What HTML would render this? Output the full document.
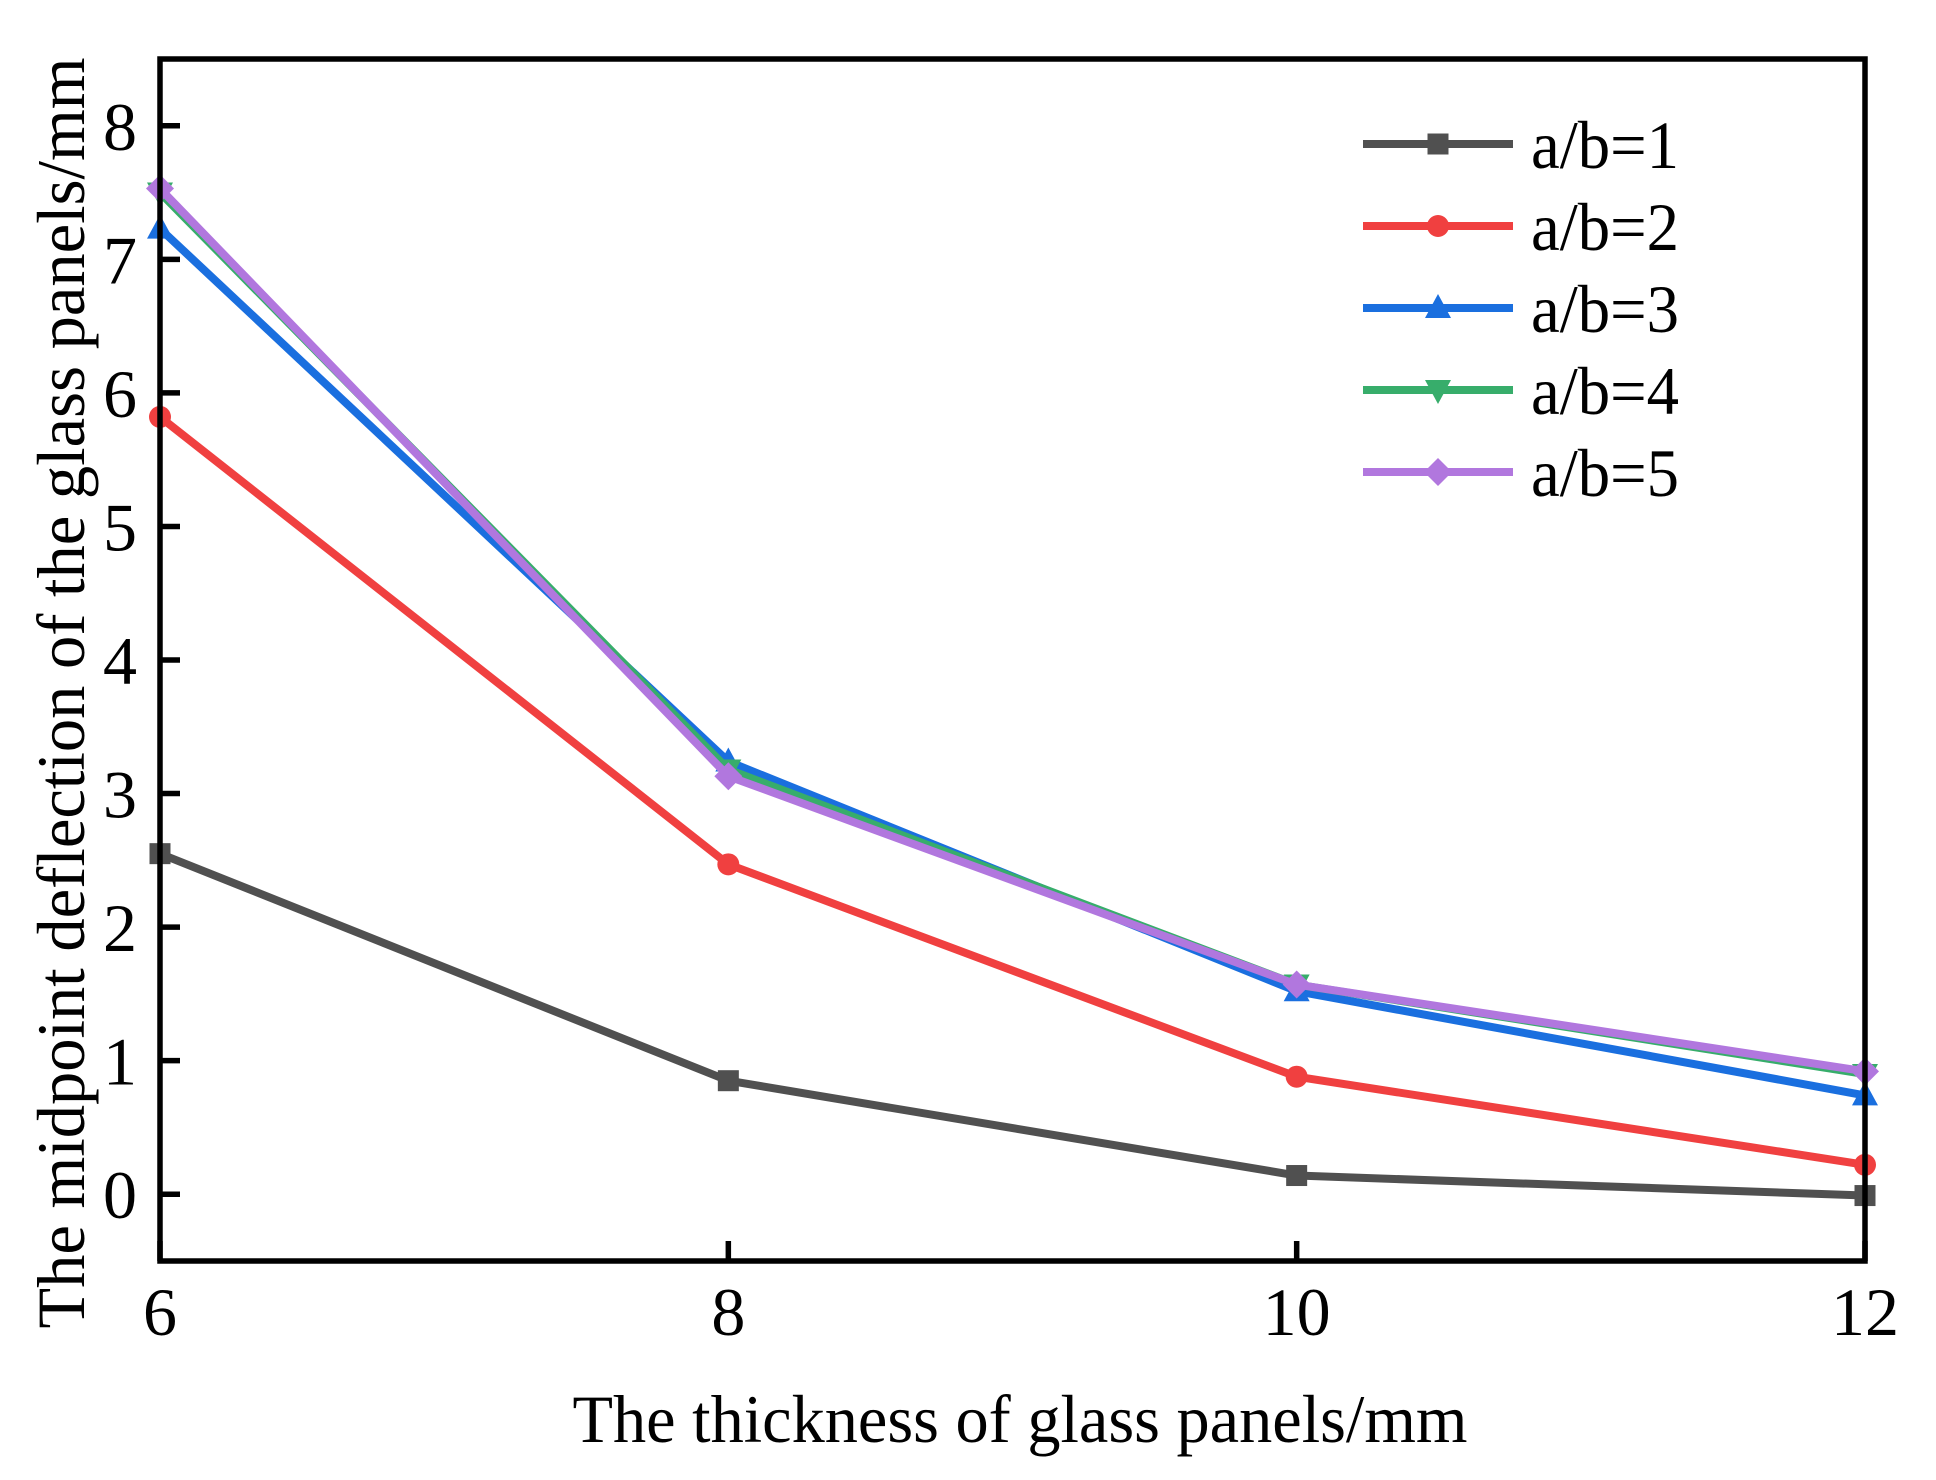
<!DOCTYPE html>
<html><head><meta charset="utf-8"><style>
html,body{margin:0;padding:0;background:#fff;}
svg{display:block;font-family:"Liberation Serif",serif;}
</style></head><body>
<svg id="chart" width="1936" height="1480" viewBox="0 0 1936 1480" xmlns="http://www.w3.org/2000/svg">
<rect x="0" y="0" width="1936" height="1480" fill="#fff"/>
<g id="series"></g>
<g id="axes"></g>
<g id="legend"></g>
</svg>
<script>
const categories = [6, 8, 10, 12];
const yTicks = [0, 1, 2, 3, 4, 5, 6, 7, 8];
const seriesNames = ["a/b=1", "a/b=2", "a/b=3", "a/b=4", "a/b=5"];
const s1 = [2.55, 0.85, 0.14, -0.01];
const s2 = [5.82, 2.47, 0.88, 0.22];
const s3 = [7.23, 3.24, 1.52, 0.74];
const s4 = [7.50, 3.18, 1.57, 0.90];
const s5 = [7.53, 3.13, 1.57, 0.92];

const NS = "http://www.w3.org/2000/svg";
const L = 160, R = 1865, T = 59, B = 1261;
const xMin = 6, xMax = 12, yMin = -0.5, yMax = 8.5;
function xs(v){ return L + (v - xMin) / (xMax - xMin) * (R - L); }
function ys(v){ return B - (v - yMin) / (yMax - yMin) * (B - T); }
function mk(tag, attrs, parent){ const e = document.createElementNS(NS, tag); for (const k in attrs) e.setAttribute(k, attrs[k]); parent.appendChild(e); return e; }

const colors = ["#505050", "#f04040", "#1a6fdf", "#37ad6b", "#b177de"];
const markers = ["square", "circle", "up", "down", "diamond"];
const data = [s1, s2, s3, s4, s5];

function marker(type, cx, cy, color, parent){
  let e;
  if (type === "square") e = mk("rect", {x: cx-10.5, y: cy-10.5, width: 21, height: 21, fill: color}, parent);
  else if (type === "circle") e = mk("circle", {cx: cx, cy: cy, r: 11, fill: color}, parent);
  else if (type === "up") e = mk("polygon", {points: `${cx},${cy-14} ${cx-13},${cy+10} ${cx+13},${cy+10}`, fill: color}, parent);
  else if (type === "down") e = mk("polygon", {points: `${cx},${cy+14} ${cx-13},${cy-10} ${cx+13},${cy-10}`, fill: color}, parent);
  else e = mk("polygon", {points: `${cx},${cy-14} ${cx+14},${cy} ${cx},${cy+14} ${cx-14},${cy}`, fill: color}, parent);
  return e;
}

const gS = document.getElementById("series");
data.forEach((vals, i) => {
  const g = mk("g", {}, gS);
  
  
  const pl = mk("polyline", {points: vals.map((v, j) => xs(categories[j]) + "," + ys(v)).join(" "), fill: "none", stroke: colors[i], "stroke-width": 8, "stroke-linejoin": "round"}, g);
  
  
  vals.forEach((v, j) => {
    const m = marker(markers[i], xs(categories[j]), ys(v), colors[i], g);
    
    
  });
});

const gA = document.getElementById("axes");
const frame = mk("rect", {x: L, y: T, width: R-L, height: B-T, fill: "none", stroke: "#000", "stroke-width": 5.5}, gA);


yTicks.forEach(t => {
  const tk = mk("line", {x1: L, x2: L+20, y1: ys(t), y2: ys(t), stroke: "#000", "stroke-width": 5.5}, gA);
  
  
  const tx = mk("text", {x: 137, y: ys(t)+24, "text-anchor": "end", "font-size": 68, fill: "#000"}, gA);
  tx.textContent = t;
  
  
});
categories.forEach(c => {
  const tk = mk("line", {x1: xs(c), x2: xs(c), y1: B, y2: B-20, stroke: "#000", "stroke-width": 5.5}, gA);
  
  
  const tx = mk("text", {x: xs(c), y: 1335, "text-anchor": "middle", "font-size": 68, fill: "#000"}, gA);
  tx.textContent = c;
  
  
});
const xt = mk("text", {x: 1020, y: 1442, "text-anchor": "middle", "font-size": 68, textLength: 895, lengthAdjust: "spacingAndGlyphs", fill: "#000"}, gA);
xt.textContent = "The thickness of glass panels/mm";


const yt = mk("text", {x: 0, y: 0, "text-anchor": "middle", "font-size": 68, textLength: 1271, lengthAdjust: "spacingAndGlyphs", fill: "#000", transform: "translate(84,693) rotate(-90)"}, gA);
yt.textContent = "The midpoint deflection of the glass panels/mm";



const gL = document.getElementById("legend");


seriesNames.forEach((n, i) => {
  const y = 144 + i * 82;
  const g = mk("g", {}, gL);
  
  
  mk("line", {x1: 1363, x2: 1513, y1: y, y2: y, stroke: colors[i], "stroke-width": 8}, g);
  marker(markers[i], 1438, y, colors[i], g);
  const tx = mk("text", {x: 1531, y: y + 24, "font-size": 68, textLength: 148, lengthAdjust: "spacingAndGlyphs", fill: "#000"}, g);
  tx.textContent = n;
});
</script>
</body></html>
